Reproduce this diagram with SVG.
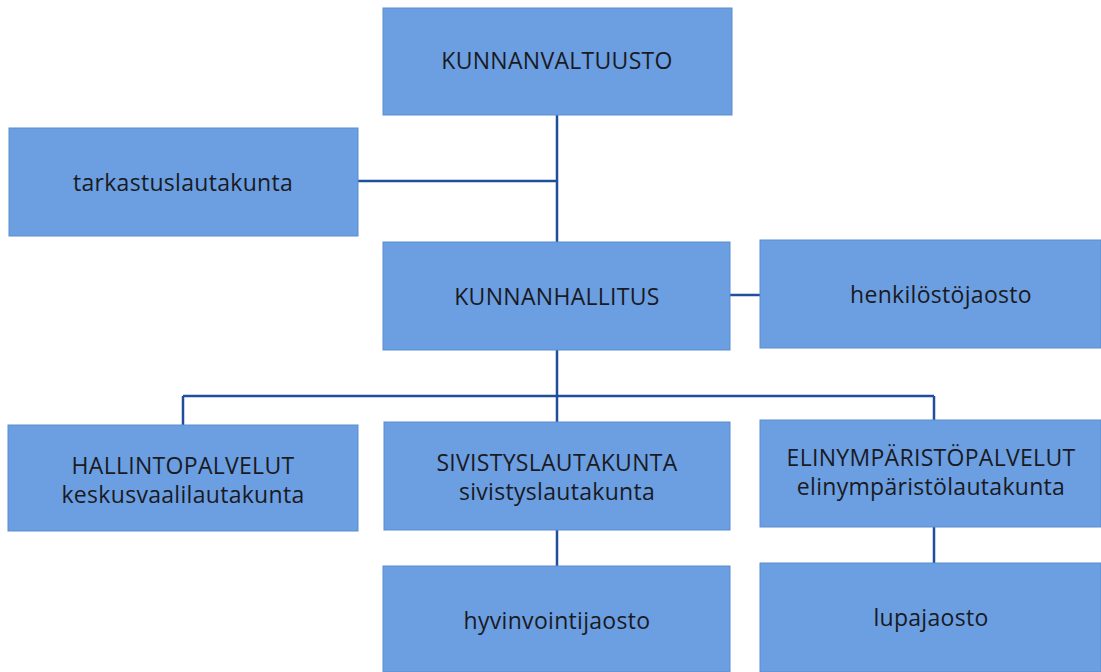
<svg xmlns="http://www.w3.org/2000/svg" width="1101" height="672" viewBox="0 0 1101 672">
<style>
.box{fill:#6b9fe2;stroke:#5a8dd0;stroke-width:1}
.t{font-family:"Open Sans","Noto Sans",sans-serif;font-size:23px;letter-spacing:0.3px;fill:#1a1a22;text-anchor:middle;dominant-baseline:central}
.c{stroke:#1f4e9c;stroke-width:2.5;fill:none}
</style>
<rect width="1101" height="672" fill="#ffffff"/>
<g id="connectors">
<path class="c" d="M557 115V242M358 181H557M730 295H760M557 350V423M183 396H934M183 396V425M934 396V420M557 530V566M934 527V563"/>
</g>
<g id="kunnanvaltuusto"><rect class="box" x="383" y="8" width="349" height="107"/><text class="t" x="557" y="60">KUNNANVALTUUSTO</text></g>
<g id="tarkastuslautakunta"><rect class="box" x="9" y="128" width="349" height="108"/><text class="t" x="183" y="182">tarkastuslautakunta</text></g>
<g id="kunnanhallitus"><rect class="box" x="383" y="242" width="347" height="108"/><text class="t" x="557" y="296">KUNNANHALLITUS</text></g>
<g id="henkilostojaosto"><rect class="box" x="760" y="240" width="341" height="108"/><text class="t" x="941" y="294">henkilöstöjaosto</text></g>
<g id="hallintopalvelut"><rect class="box" x="8" y="425" width="350" height="106"/><text class="t" x="183" y="465">HALLINTOPALVELUT</text><text class="t" x="183" y="494">keskusvaalilautakunta</text></g>
<g id="sivistyslautakunta"><rect class="box" x="384" y="422" width="346" height="108"/><text class="t" x="557" y="462">SIVISTYSLAUTAKUNTA</text><text class="t" x="557" y="491">sivistyslautakunta</text></g>
<g id="elinymparistopalvelut"><rect class="box" x="760" y="420" width="341" height="107"/><text class="t" x="931" y="457">ELINYMPÄRISTÖPALVELUT</text><text class="t" x="931" y="486">elinympäristölautakunta</text></g>
<g id="hyvinvointijaosto"><rect class="box" x="383" y="566" width="347" height="106"/><text class="t" x="557" y="620">hyvinvointijaosto</text></g>
<g id="lupajaosto"><rect class="box" x="760" y="563" width="341" height="109"/><text class="t" x="931" y="617">lupajaosto</text></g>
</svg>
